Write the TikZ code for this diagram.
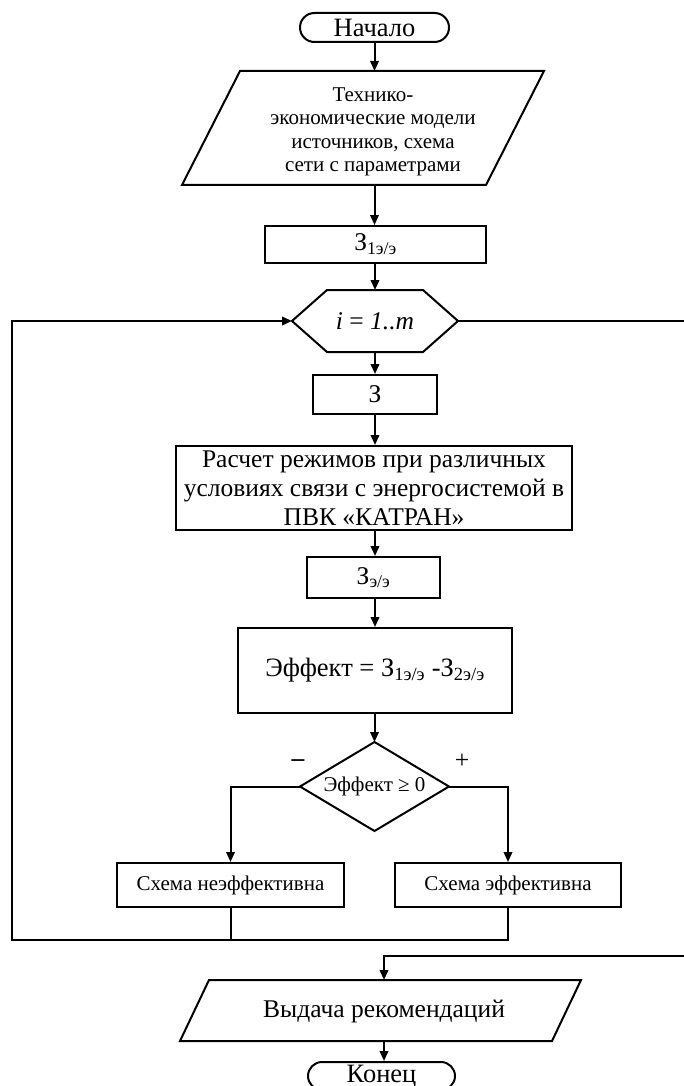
\documentclass[tikz,border=0pt]{standalone}
\usepackage{fontspec}
\setmainfont{Liberation Serif}
\usetikzlibrary{arrows.meta,shapes.misc}
\begin{document}
\begin{tikzpicture}[x=1pt,y=-1pt,line width=2pt,
  big/.style={font=\fontsize{25.5}{29}\selectfont},
  small/.style={font=\fontsize{21}{23.5}\selectfont},
  box/.style={draw,rectangle,inner sep=0pt,align=center,big},
  frame/.style={draw=none,rectangle,inner sep=0pt},
  term/.style={draw,rounded rectangle,inner sep=0pt,font=\fontsize{26.5}{29}\selectfont},
  txt/.style={inner sep=0pt,align=center},
  arr/.style={-{Triangle[length=10pt,width=8.5pt]}}]
\useasboundingbox (0,0) rectangle (683,1086);
% start
\node[term,minimum width=149,minimum height=29] (start) at (374.5,27.5) {Начало};
% input parallelogram
\node[frame,minimum width=302,minimum height=112] (in1) at (363,128) {};
\draw ([xshift=29]in1.north west) -- ([xshift=29]in1.north east)
  -- ([xshift=-29]in1.south east) -- ([xshift=-29]in1.south west) -- cycle;
\node[txt,small] (in1t) at (373,132) {Технико-\\экономические модели\\источников, схема\\сети с параметрами};
% Z1
\node[box,minimum width=221,minimum height=37] (z1) at (375.5,244.5) {З\textsubscript{1э/э}};
% hexagon
\node[frame,minimum width=164,minimum height=60,big] (hex) at (375,321) {\textit{i} = \textit{1..m}};
\draw (hex.west) -- ([xshift=35]hex.north west) -- ([xshift=-35]hex.north east)
  -- (hex.east) -- ([xshift=-35]hex.south east) -- ([xshift=35]hex.south west) -- cycle;
% Z
\node[box,minimum width=124,minimum height=39] (z) at (375,394.5) {З};
% calc
\node[box,minimum width=396,minimum height=84] (calc) at (374,488) {Расчет режимов при различных\\условиях связи с энергосистемой в\\ПВК «КАТРАН»};
% Zee
\node[box,minimum width=133,minimum height=41] (zee) at (373.5,577.5) {З\textsubscript{э/э}};
% effect
\node[box,minimum width=274,minimum height=85,font=\fontsize{26.5}{29}\selectfont] (eff) at (375,670.5) {Эффект = З\textsubscript{1э/э} -З\textsubscript{2э/э}};
% decision
\node[frame,minimum width=147,minimum height=87,small] (dia) at (374.5,786.5) {Эффект ≥ 0};
\draw (dia.north) -- (dia.east) -- (dia.south) -- (dia.west) -- cycle;
\node[big] (minus) at (298,763) {\textbf{–}};
\node[big] (plus) at (462,761) {+};
% outcomes
\node[box,small,minimum width=227,minimum height=44] (s1) at (230.5,885) {Схема неэффективна};
\node[box,small,minimum width=226,minimum height=44] (s2) at (508,885) {Схема эффективна};
% output
\node[frame,minimum width=370,minimum height=59] (out) at (380.5,1010.5) {};
\draw ([xshift=14.5]out.north west) -- ([xshift=14.5]out.north east)
  -- ([xshift=-14.5]out.south east) -- ([xshift=-14.5]out.south west) -- cycle;
\node[txt,big] (outt) at (384,1011) {Выдача рекомендаций};
% end
\node[term,minimum width=147,minimum height=28] (end) at (381.5,1076) {Конец};
% coordinates
\coordinate (lb) at (12,939.5);
\coordinate (rc) at (688,956);
\coordinate (ret) at (384,956);
% connectors
\draw[arr] (start.south) -- (start.south |- in1.north);
\draw[arr] (start.south |- in1.south) -- (start.south |- z1.north);
\draw[arr] (z1.south -| hex.north) -- (hex.north);
\draw[arr] (hex.south) -- (hex.south |- z.north);
\draw[arr] (z.south) -- (z.south |- calc.north);
\draw[arr] (z.south |- calc.south) -- (z.south |- zee.north);
\draw[arr] (eff.north |- zee.south) -- (eff.north);
\draw[arr] (eff.south -| dia.north) -- (dia.north);
\draw[arr] (dia.west) -- (s1.north |- dia.west) -- (s1.north);
\draw[arr] (dia.east) -- (s2.north |- dia.east) -- (s2.north);
\draw (s1.south) -- (s1.south |- lb);
\draw[arr] (s2.south) -- (s2.south |- lb) -- (lb) -- (lb |- hex.west) -- (hex.west);
\draw[arr] (hex.east) -- (hex.east -| rc) -- (rc) -- (ret) -- (ret |- out.north);
\draw[arr] (ret |- out.south) -- (ret |- end.north);
\end{tikzpicture}
\end{document}
